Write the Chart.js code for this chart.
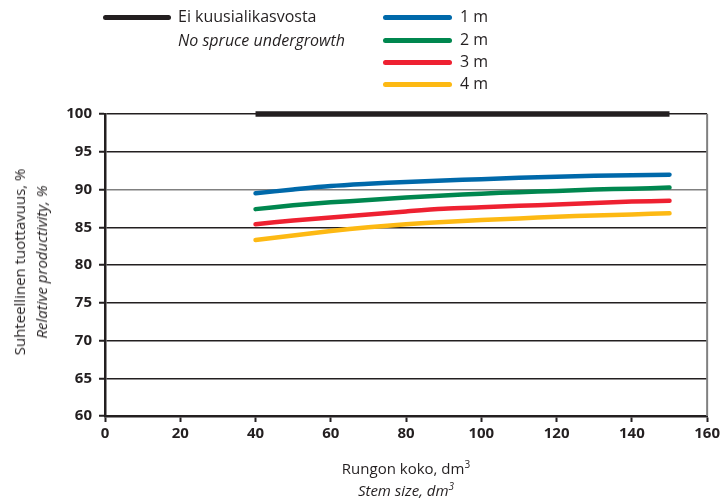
<!DOCTYPE html>
<html>
<head>
<meta charset="utf-8">
<script src="https://cdn.jsdelivr.net/npm/chart.js@4.4.1/dist/chart.umd.min.js"></script>
<style>
  html, body { margin: 0; padding: 0; background: #fff; }
  #wrap { position: relative; width: 723px; height: 504px; font-family: "Open Sans", sans-serif; color: #231f20; }
  canvas { position: absolute; left: 0; top: 0; }
  .t { position: absolute; font-size: 16px; white-space: nowrap; line-height: 1; }
  .i { font-style: italic; }
  .sw { position: absolute; height: 5px; border-radius: 2.5px; }
  .ytitle { position: absolute; left: 30px; top: 262px; transform: translate(-50%, -50%) rotate(-90deg); text-align: center; font-size: 15px; line-height: 22px; white-space: nowrap; }
  .xtitle { position: absolute; left: 406px; top: 457px; transform: translateX(-50%); text-align: center; font-size: 15px; line-height: 22px; white-space: nowrap; }
  sup { font-size: 10px; vertical-align: 6px; line-height: 0; }
</style>
</head>
<body>
<div id="wrap">
  <canvas id="c" width="723" height="504"></canvas>

  <div class="sw" style="left:103px; top:15px; width:68px; background:#231f20;"></div>
  <div class="t" style="left:178px; top:8px;">Ei kuusialikasvosta</div>
  <div class="t i" style="left:178px; top:32px;">No spruce undergrowth</div>

  <div class="sw" style="left:383px; top:15px; width:69px; background:#0069aa;"></div>
  <div class="t" style="left:460px; top:8px;">1 m</div>
  <div class="sw" style="left:383px; top:38px; width:69px; background:#00874f;"></div>
  <div class="t" style="left:460px; top:31px;">2 m</div>
  <div class="sw" style="left:383px; top:60px; width:69px; background:#ee2131;"></div>
  <div class="t" style="left:460px; top:53px;">3 m</div>
  <div class="sw" style="left:383px; top:82px; width:69px; background:#fdb913;"></div>
  <div class="t" style="left:460px; top:75px;">4 m</div>

  <div class="ytitle">Suhteellinen tuottavuus, %<br><span class="i">Relative productivity, %</span></div>
  <div class="xtitle">Rungon koko, dm<sup>3</sup><br><span class="i">Stem size, dm<sup>3</sup></span></div>
</div>
<script>
// Stem size, dm3
const stemSize = [40, 50, 60, 70, 80, 90, 100, 110, 120, 130, 140, 150];
// Relative productivity, %
const noUndergrowth = [100, 100, 100, 100, 100, 100, 100, 100, 100, 100, 100, 100];
const spruce1m = [89.5, 90.0, 90.45, 90.75, 91.0, 91.2, 91.35, 91.55, 91.7, 91.82, 91.9, 91.97];
const spruce2m = [87.4, 87.9, 88.3, 88.6, 88.95, 89.2, 89.45, 89.65, 89.8, 90.0, 90.1, 90.25];
const spruce3m = [85.4, 85.9, 86.3, 86.7, 87.1, 87.45, 87.65, 87.85, 88.0, 88.2, 88.4, 88.5];
const spruce4m = [83.3, 83.9, 84.5, 85.0, 85.4, 85.7, 85.95, 86.15, 86.4, 86.55, 86.7, 86.85];
const xTicks = [0, 20, 40, 60, 80, 100, 120, 140, 160];
const yTicks = [60, 65, 70, 75, 80, 85, 90, 95, 100];

const pts = arr => arr.map((v, i) => ({ x: stemSize[i], y: v }));
const line = (label, data, color) => ({
  label, data: pts(data), borderColor: color, backgroundColor: color,
  borderWidth: 4.5, pointRadius: 0, tension: 0.3, borderCapStyle: 'round',
  fill: false, clip: false
});

// Grey right-hand frame edge
const rightFrame = {
  id: 'rightFrame',
  afterDraw(chart) {
    const { ctx, chartArea: a } = chart;
    ctx.save();
    ctx.strokeStyle = '#808080';
    ctx.lineWidth = 2;
    ctx.beginPath();
    ctx.moveTo(a.right, a.top);
    ctx.lineTo(a.right, a.bottom);
    ctx.stroke();
    ctx.restore();
  }
};

const baseLine = line('Ei kuusialikasvosta', noUndergrowth, '#231f20');
baseLine.borderWidth = 5.5;
baseLine.borderCapStyle = 'butt';

new Chart(document.getElementById('c'), {
  type: 'line',
  data: {
    datasets: [
      line('4 m', spruce4m, '#fdb913'),
      line('3 m', spruce3m, '#ee2131'),
      line('2 m', spruce2m, '#00874f'),
      line('1 m', spruce1m, '#0069aa'),
      baseLine
    ]
  },
  options: {
    responsive: false,
    animation: false,
    layout: { padding: { left: 0, right: 15, top: 114, bottom: 0 } },
    plugins: { legend: { display: false }, tooltip: { enabled: false } },
    scales: {
      x: {
        type: 'linear', min: 0, max: 160,
        afterBuildTicks: s => { s.ticks = xTicks.map(v => ({ value: v })); },
        afterFit: s => { s.height = 88; },
        grid: { drawOnChartArea: false, drawTicks: true, tickLength: 6, tickColor: '#231f20', tickWidth: 2 },
        border: { color: '#231f20', width: 2.5 },
        ticks: { color: '#231f20', padding: 3, font: { family: 'Open Sans', size: 15, weight: 'bold' } }
      },
      y: {
        min: 60, max: 100,
        afterBuildTicks: s => { s.ticks = yTicks.map(v => ({ value: v })); },
        afterFit: s => { s.width = 105; },
        grid: {
          color: c => c.tick && c.tick.value === 90 ? '#808080' : '#231f20',
          lineWidth: 1.5, tickLength: 6, tickColor: '#231f20', tickWidth: 2
        },
        border: { color: '#231f20', width: 2.5 },
        ticks: { color: '#231f20', padding: 7, font: { family: 'Open Sans', size: 15, weight: 'bold' } }
      }
    }
  },
  plugins: [rightFrame]
});
</script>
</body>
</html>
